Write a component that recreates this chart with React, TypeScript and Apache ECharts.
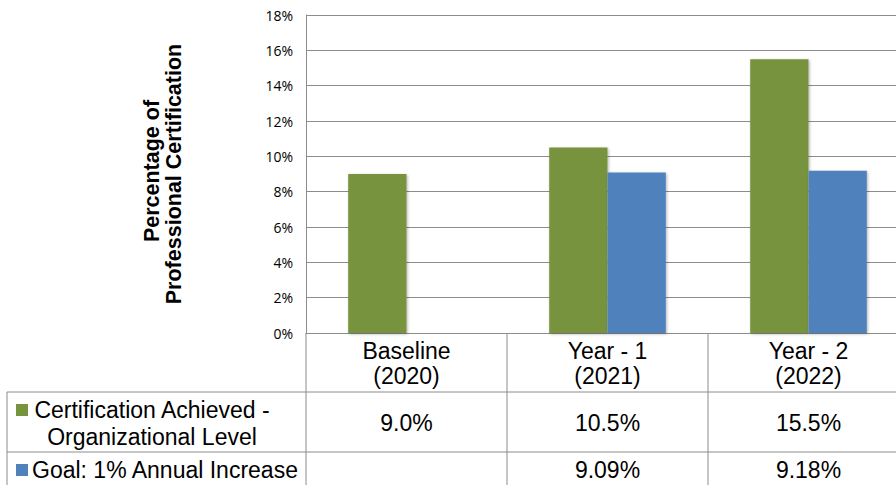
import React, { useEffect, useRef } from "react";
import * as echarts from "echarts";

const categories = ["Baseline\n(2020)", "Year - 1\n(2021)", "Year - 2\n(2022)"];
const achievedName = "Certification Achieved -\nOrganizational Level";
const goalName = "Goal: 1% Annual Increase";
const achieved = [9.0, 10.5, 15.5];
const goal: (number | null)[] = [null, 9.09, 9.18];
const achievedLabels = ["9.0%", "10.5%", "15.5%"];
const goalLabels = ["", "9.09%", "9.18%"];
const yTicks = [0, 2, 4, 6, 8, 10, 12, 14, 16, 18];
const yTitle = ["Percentage of", "Professional Certification"];

const GREEN = "#77933C";
const BLUE = "#4F81BD";
const LINE = "#8c8c8c";
const FONT = "'Liberation Sans', Arial, sans-serif";
const TFONT = `23px ${FONT}`;

export default function App() {
  const ref = useRef<HTMLDivElement>(null);
  useEffect(() => {
    document.body.style.margin = "0";
    document.body.style.overflow = "hidden";
    const chart = echarts.init(ref.current!, undefined, { renderer: "svg" });
    const GL = 306, GT = 15, GB = 152, GR = 0;
    chart.setOption({
      animation: false,
      grid: { left: GL, top: GT, bottom: GB, right: GR, containLabel: false },
      xAxis: {
        type: "category",
        data: categories,
        axisLine: { show: true, lineStyle: { color: LINE, width: 1 } },
        axisTick: { show: false },
        axisLabel: {
          color: "#000",
          fontFamily: FONT,
          fontSize: 23,
          lineHeight: 25,
          margin: 5,
          verticalAlign: "top",
        },
      },
      yAxis: {
        type: "value",
        min: yTicks[0],
        max: yTicks[yTicks.length - 1],
        interval: 2,
        axisLine: { show: true, lineStyle: { color: LINE, width: 1 } },
        axisTick: { show: false },
        axisLabel: {
          color: "#000",
          fontFamily: "'Open Sans', 'Liberation Sans', sans-serif",
          fontSize: 14,
          margin: 13,
          formatter: "{value}%",
        },
        splitLine: { show: true, lineStyle: { color: LINE, width: 1 } },
      },
      series: [
        {
          name: achievedName,
          type: "bar",
          data: achieved,
          barGap: "0%",
          barCategoryGap: "42%",
          itemStyle: {
            color: GREEN,
            shadowBlur: 3,
            shadowColor: "rgba(0,0,0,0.3)",
            shadowOffsetX: 1,
            shadowOffsetY: 1,
          },
        },
        {
          name: goalName,
          type: "bar",
          data: goal,
          itemStyle: {
            color: BLUE,
            shadowBlur: 3,
            shadowColor: "rgba(0,0,0,0.3)",
            shadowOffsetX: 1,
            shadowOffsetY: 1,
          },
        },
      ],
    });

    const axisY = 485 - GB;
    const row1Top = 392;
    const row2Top = 452;
    const bottom = 485;
    const tableLeft = 7;
    const centers = categories.map((_, i) => chart.convertToPixel({ xAxisIndex: 0 }, i) as number);
    const band = centers.length > 1 ? centers[1] - centers[0] : 200;
    const boundaries = centers.map((c) => c - band / 2).concat([centers[centers.length - 1] + band / 2]);
    const lineStyle = { stroke: LINE, lineWidth: 1 };
    const graphics: any[] = [];
    graphics.push({ type: "line", shape: { x1: tableLeft, y1: row1Top, x2: 920, y2: row1Top }, style: lineStyle, silent: true });
    graphics.push({ type: "line", shape: { x1: tableLeft, y1: row2Top, x2: 920, y2: row2Top }, style: lineStyle, silent: true });
    graphics.push({ type: "line", shape: { x1: tableLeft, y1: row1Top, x2: tableLeft, y2: bottom }, style: lineStyle, silent: true });
    boundaries.forEach((bx) => {
      graphics.push({ type: "line", shape: { x1: bx, y1: axisY, x2: bx, y2: bottom }, style: lineStyle, silent: true });
    });
    centers.forEach((cx, i) => {
      graphics.push({
        type: "text",
        x: cx,
        y: 423,
        style: { text: achievedLabels[i], font: TFONT, fill: "#000", textAlign: "center", textVerticalAlign: "middle" },
        silent: true,
      });
      graphics.push({
        type: "text",
        x: cx,
        y: 470,
        style: { text: goalLabels[i], font: TFONT, fill: "#000", textAlign: "center", textVerticalAlign: "middle" },
        silent: true,
      });
    });
    // legend keys and row labels
    const [l1, l2] = achievedName.split("\n");
    graphics.push({ type: "rect", shape: { x: 16, y: 404, width: 12, height: 12 }, style: { fill: GREEN }, silent: true });
    graphics.push({ type: "text", x: 152, y: 410, style: { text: l1, font: TFONT, fill: "#000", textAlign: "center", textVerticalAlign: "middle" }, silent: true });
    graphics.push({ type: "text", x: 152, y: 437, style: { text: l2, font: TFONT, fill: "#000", textAlign: "center", textVerticalAlign: "middle" }, silent: true });
    graphics.push({ type: "rect", shape: { x: 16, y: 464, width: 12, height: 12 }, style: { fill: BLUE }, silent: true });
    graphics.push({ type: "text", x: 32, y: 470, style: { text: goalName, font: TFONT, fill: "#000", textAlign: "left", textVerticalAlign: "middle" }, silent: true });
    // axis title
    graphics.push({
      type: "text",
      x: 152,
      y: 171,
      rotation: Math.PI / 2,
      style: { text: yTitle[0], font: `bold 21.5px ${FONT}`, fill: "#000", textAlign: "center", textVerticalAlign: "middle" },
      silent: true,
    });
    graphics.push({
      type: "text",
      x: 174,
      y: 174,
      rotation: Math.PI / 2,
      style: { text: yTitle[1], font: `bold 21.5px ${FONT}`, fill: "#000", textAlign: "center", textVerticalAlign: "middle" },
      silent: true,
    });
    chart.setOption({ graphic: graphics });
    return () => chart.dispose();
  }, []);
  return <div ref={ref} style={{ width: 909, height: 485 }} />;
}
